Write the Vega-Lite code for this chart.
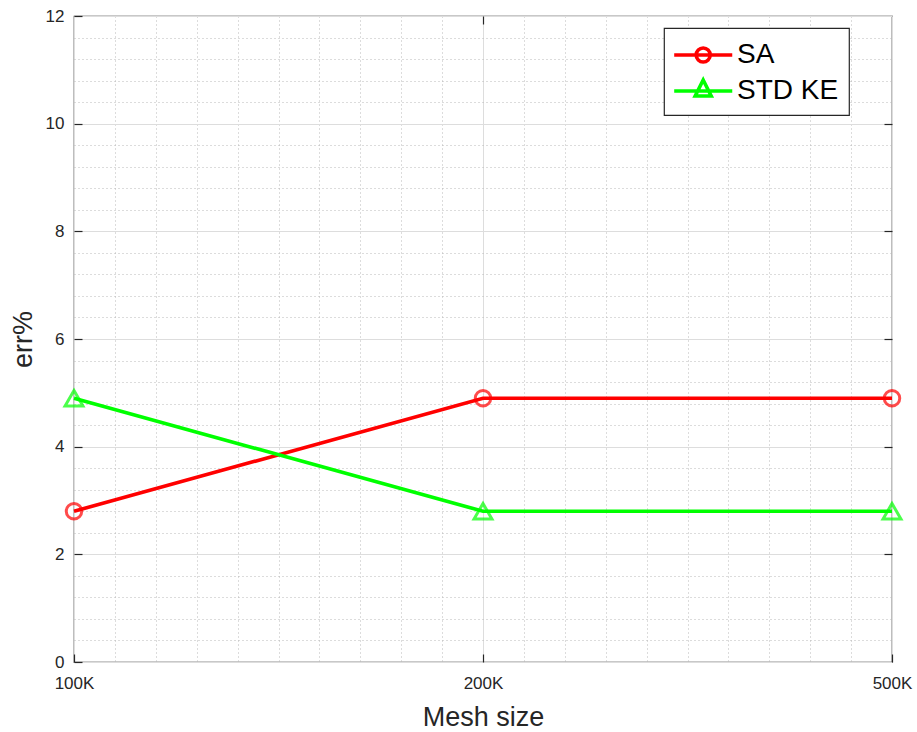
{
  "$schema": "https://vega.github.io/schema/vega-lite/v6.json",
  "autosize": "none",
  "width": 818,
  "height": 646,
  "padding": {"left": 74, "top": 16, "right": 25, "bottom": 70},
  "background": "white",
  "config": {
    "view": {"stroke": "#262626", "strokeWidth": 1.2},
    "font": "Liberation Sans",
    "axis": {"labelFont": "Liberation Sans", "titleFont": "Liberation Sans", "labelColor": "#262626", "titleColor": "#262626", "titleFontWeight": "normal"}
  },
  "data": {
    "values": [
      {"mesh": 1, "label": "100K", "series": "SA", "err": 2.8},
      {"mesh": 2, "label": "200K", "series": "SA", "err": 4.9},
      {"mesh": 3, "label": "500K", "series": "SA", "err": 4.9},
      {"mesh": 1, "label": "100K", "series": "STD KE", "err": 4.9},
      {"mesh": 2, "label": "200K", "series": "STD KE", "err": 2.8},
      {"mesh": 3, "label": "500K", "series": "STD KE", "err": 2.8}
    ]
  },
  "layer": [
    {
      "mark": {"type": "line", "strokeWidth": 3.6, "clip": false},
      "encoding": {
        "x": {
          "field": "mesh", "type": "quantitative",
          "scale": {"domain": [1, 3], "nice": false, "zero": false},
          "axis": {
            "orient": "bottom",
            "title": "Mesh size", "titleFontSize": 27, "titlePadding": 13,
            "values": [1,1.1,1.2,1.3,1.4,1.5,1.6,1.7,1.8,1.9,2,2.1,2.2,2.3,2.4,2.5,2.6,2.7,2.8,2.9,3],
            "labelExpr": "datum.value === 1 ? '100K' : datum.value === 2 ? '200K' : datum.value === 3 ? '500K' : ''",
            "labelFontSize": 17, "labelPadding": 13, "labelFlush": false, "labelOverlap": false,
            "domain": false, "offset": -8,
            "grid": true,
            "gridColor": {"condition": {"test": "datum.value % 1 === 0", "value": "#dddddd"}, "value": "#b8b8b8"},
            "gridDash": {"condition": {"test": "datum.value % 1 === 0", "value": []}, "value": [1, 3]},
            "gridWidth": 1,
            "ticks": true, "tickSize": 8, "tickColor": "#262626", "tickWidth": 1.2,
            "tickOpacity": {"condition": {"test": "datum.value % 1 === 0", "value": 1}, "value": 0}
          }
        },
        "y": {
          "field": "err", "type": "quantitative",
          "scale": {"domain": [0, 12], "nice": false},
          "axis": {
            "orient": "left",
            "title": "err%", "titleFontSize": 27, "titlePadding": 8,
            "values": [0,0.4,0.8,1.2,1.6,2,2.4,2.8,3.2,3.6,4,4.4,4.8,5.2,5.6,6,6.4,6.8,7.2,7.6,8,8.4,8.8,9.2,9.6,10,10.4,10.8,11.2,11.6,12],
            "labelExpr": "datum.value % 2 === 0 ? datum.value : ''",
            "labelFontSize": 17, "labelPadding": 10, "labelFlush": false, "labelOverlap": false,
            "domain": false, "offset": -8,
            "grid": true,
            "gridColor": {"condition": {"test": "datum.value % 2 === 0", "value": "#dddddd"}, "value": "#b8b8b8"},
            "gridDash": {"condition": {"test": "datum.value % 2 === 0", "value": []}, "value": [1, 3]},
            "gridWidth": 1,
            "ticks": true, "tickSize": 8, "tickColor": "#262626", "tickWidth": 1.2,
            "tickOpacity": {"condition": {"test": "datum.value % 2 === 0", "value": 1}, "value": 0}
          }
        },
        "color": {
          "field": "series", "type": "nominal",
          "scale": {"domain": ["SA", "STD KE"], "range": ["#ff0000", "#00ff00"]},
          "legend": {
            "orient": "none", "legendX": 590, "legendY": 12,
            "title": null,
            "fillColor": "white", "strokeColor": "#262626",
            "padding": 10, "rowPadding": 2,
            "labelFont": "Liberation Sans", "labelFontSize": 28, "labelColor": "black", "labelOffset": 29,
            "symbolSize": 900, "symbolStrokeWidth": 3.6, "symbolFillColor": "transparent",
            "encode": {
              "legend": {"update": {"strokeWidth": {"value": 1.2}}},
              "symbols": {
                "update": {
                  "shape": {"signal": "datum.value === 'SA' ? 'M-1.12,0L2.75,0M1.28,0A0.467,0.467 0 1,1 0.346,0A0.467,0.467 0 1,1 1.28,0Z' : 'M-1.12,0L2.75,0M0.813,-0.733L1.346,0.333L0.28,0.333Z'"},
                  "fill": {"value": "transparent"},
                  "size": {"value": 900}
                }
              }
            }
          }
        },
        "detail": {"field": "series"}
      }
    },
    {
      "mark": {"type": "point", "filled": false, "strokeWidth": 3, "clip": false},
      "encoding": {
        "x": {"field": "mesh", "type": "quantitative", "axis": {"orient": "top", "values": [2], "labels": false, "grid": false, "domain": false, "title": null, "ticks": true, "offset": -8, "tickSize": 8, "tickColor": "#262626", "tickWidth": 1.2}},
        "y": {"field": "err", "type": "quantitative", "axis": {"orient": "right", "values": [2,4,6,8,10], "labels": false, "grid": false, "domain": false, "title": null, "ticks": true, "offset": -8, "tickSize": 8, "tickColor": "#262626", "tickWidth": 1.2}},
        "color": {
          "field": "series", "type": "nominal",
          "scale": {"domain": ["SA", "STD KE"], "range": ["#ff0000", "#00ff00"]}
        },
        "shape": {"condition": {"test": "datum.series === 'SA'", "value": "circle"}, "value": "triangle-up"},
        "size": {"condition": {"test": "datum.series === 'SA'", "value": 240}, "value": 320}
      }
    }
  ]
}
